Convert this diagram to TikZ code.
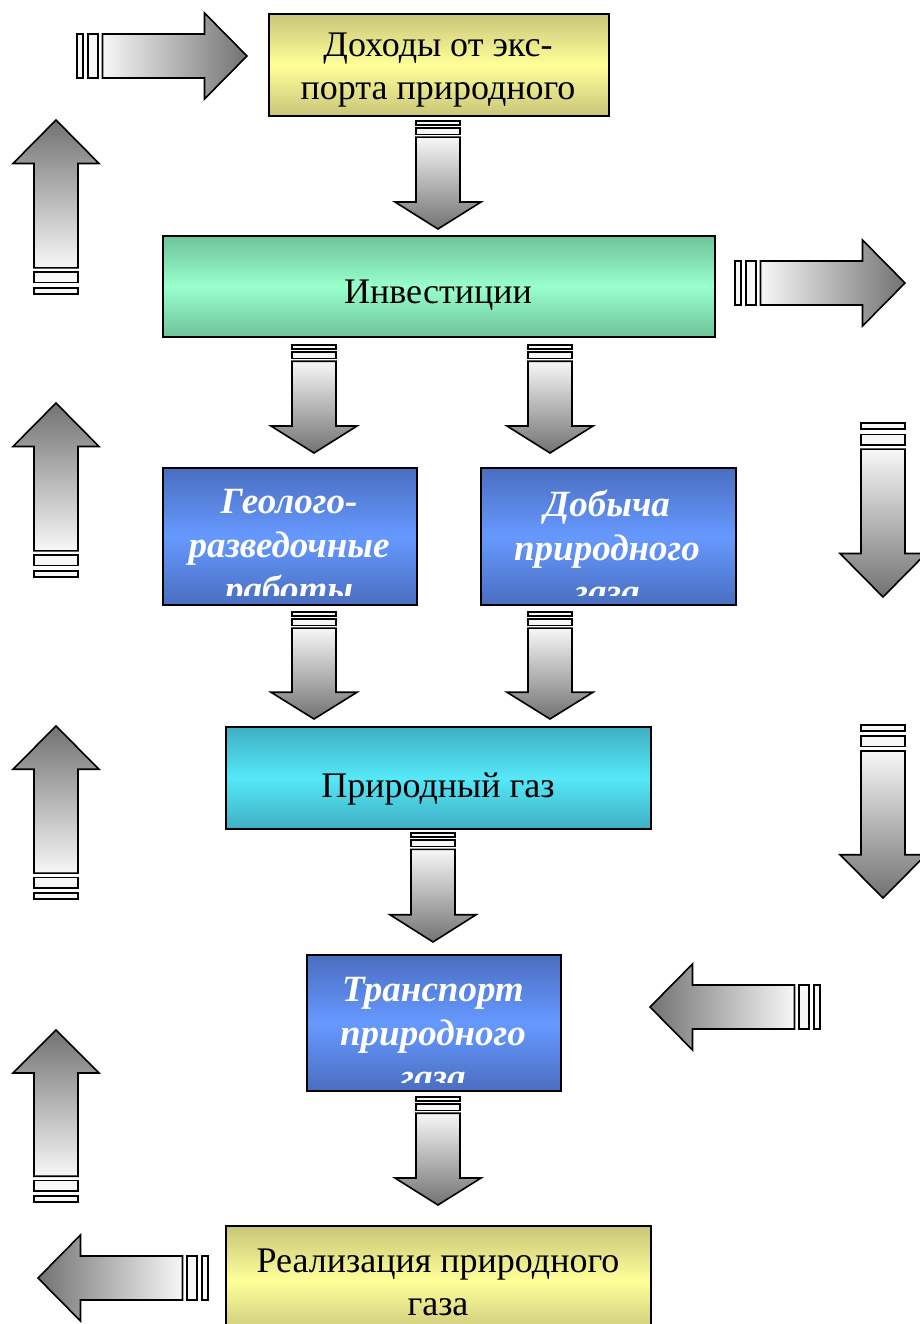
\documentclass[tikz,border=0pt]{standalone}
\usepackage{fontspec}
\setmainfont{Liberation Serif}
\definecolor{arrdark}{HTML}{727272}
\definecolor{arrlight}{HTML}{F7F7F7}
\definecolor{yelEdge}{HTML}{C9C57A}
\definecolor{yelMid}{HTML}{FFFF99}
\definecolor{grnEdge}{HTML}{6EC39B}
\definecolor{grnMid}{HTML}{99FFCC}
\definecolor{cyaEdge}{HTML}{3FAFC2}
\definecolor{cyaMid}{HTML}{55E8F8}
\definecolor{bluEdge}{HTML}{4A6EC0}
\definecolor{bluMid}{HTML}{6699FF}
\tikzset{
  box/.style={draw=black, line width=1.8pt, inner sep=0pt, anchor=north west},
  yelbox/.style={box, top color=yelEdge, bottom color=yelEdge, middle color=yelMid},
  grnbox/.style={box, top color=grnEdge, bottom color=grnEdge, middle color=grnMid},
  cyabox/.style={box, top color=cyaEdge, bottom color=cyaEdge, middle color=cyaMid},
  blubox/.style={box, top color=bluEdge, bottom color=bluEdge, middle color=bluMid},
  plaintext/.style={align=center, font=\fontsize{36}{43}\selectfont, text=black, inner sep=0pt},
  bluetext/.style={align=center, font=\fontsize{37}{44}\selectfont\bfseries\itshape, text=white, inner sep=0pt},
  arrowbody/.style={draw=black, line width=1.6pt, line join=miter},
  stripe/.style={draw=black, line width=1.6pt, fill=arrlight},
  dirr/.style={x={(1pt,0pt)}, y={(0pt,1pt)}},
  dirl/.style={x={(-1pt,0pt)}, y={(0pt,1pt)}},
  dird/.style={x={(0pt,-1pt)}, y={(1pt,0pt)}},
  diru/.style={x={(0pt,1pt)}, y={(1pt,0pt)}},
  shader/.style={left color=arrlight, right color=arrdark},
  shadel/.style={left color=arrdark, right color=arrlight},
  shaded/.style={top color=arrlight, bottom color=arrdark},
  shadeu/.style={top color=arrdark, bottom color=arrlight},
}
% #1 direction (r,l,u,d), #2 x, #3 y of tail centre, #4 length
\newcommand{\barrow}[4]{%
  \begin{scope}[shift={(#2,#3)}, dir#1]
    \draw[arrowbody, shade#1] ({0.15*#4},-22) -- ({0.75*#4},-22) -- ({0.75*#4},-43)
      -- (#4,0) -- ({0.75*#4},43) -- ({0.75*#4},22) -- ({0.15*#4},22) -- cycle;
    \draw[stripe] (0,-22) rectangle ({0.035*#4},22);
    \draw[stripe] ({0.065*#4},-22) rectangle ({0.125*#4},22);
  \end{scope}}
\begin{document}
\begin{tikzpicture}[x=1pt, y=-1pt]
\useasboundingbox (0,0) rectangle (920,1324);

% boxes
\node[yelbox, minimum width=340pt, minimum height=102pt] (dohody) at (268,13) {};
\node[plaintext] (dohodyT) at (438,70) {Доходы от экс-\\порта природного};

\node[grnbox, minimum width=552pt, minimum height=101pt] (invest) at (162,235) {};
\node[plaintext] (investT) at (438,295) {Инвестиции};

\node[blubox, minimum width=254pt, minimum height=137pt] (geo) at (162,467) {};
\begin{scope}
  \clip (164,469) rectangle (414,595);
  \node[bluetext] (geoT) at (289,549) {Геолого-\\разведочные\\работы};
\end{scope}

\node[blubox, minimum width=255pt, minimum height=137pt] (dob) at (480,467) {};
\begin{scope}
  \clip (482,469) rectangle (733,595);
  \node[bluetext] (dobT) at (607,547) {Добыча\\природного\\газа};
\end{scope}

\node[cyabox, minimum width=425pt, minimum height=102pt] (gas) at (225,726) {};
\node[plaintext] (gasT) at (438,789) {Природный газ};

\node[blubox, minimum width=254pt, minimum height=136pt] (trans) at (306,954) {};
\begin{scope}
  \clip (308,956) rectangle (558,1082);
  \node[bluetext] (transT) at (433,1034) {Транспорт\\природного\\газа};
\end{scope}

\node[yelbox, minimum width=425pt, minimum height=110pt] (real) at (225,1225) {};
\node[plaintext] (realT) at (438,1282) {Реализация природного\\газа};

% block arrows
\barrow{r}{77}{56}{170}
\barrow{r}{735}{283}{170}
\barrow{d}{438}{121}{108}
\barrow{d}{314}{345}{108}
\barrow{d}{550}{345}{108}
\barrow{d}{314}{612}{107}
\barrow{d}{550}{612}{107}
\barrow{d}{433}{833}{109}
\barrow{d}{438}{1097}{108}
\barrow{u}{56}{294}{174}
\barrow{u}{56}{577}{174}
\barrow{u}{56}{899}{173}
\barrow{u}{56}{1202}{172}
\barrow{d}{883}{423}{174}
\barrow{d}{883}{725}{173}
\barrow{l}{820}{1007}{170}
\barrow{l}{208}{1278}{170}
\end{tikzpicture}
\end{document}
